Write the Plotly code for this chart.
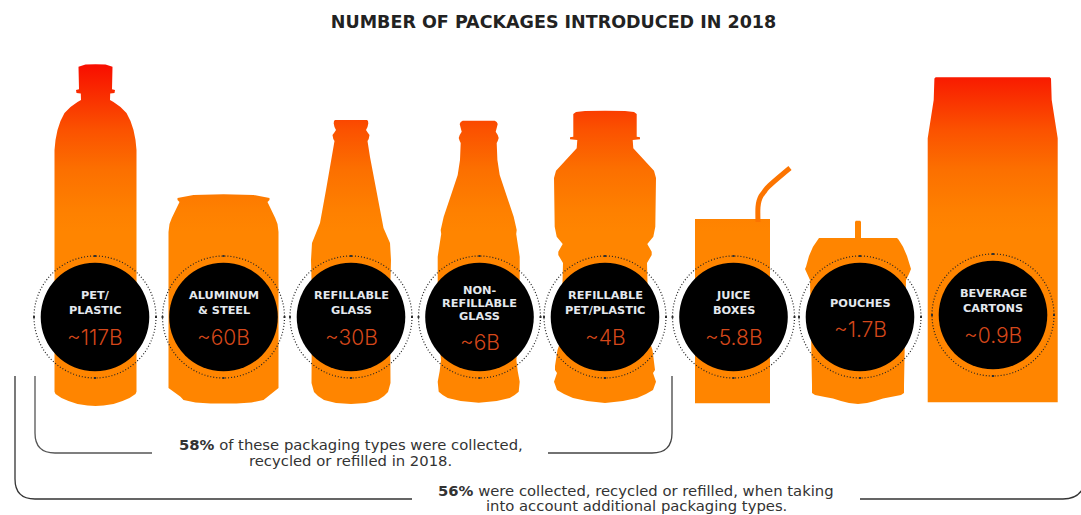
import plotly.graph_objects as go

WIDTH, HEIGHT = 1081, 515

# Packaging volumes (billions of units) and their labels
package_labels = [
    ["PET/", "PLASTIC"],
    ["ALUMINUM", "& STEEL"],
    ["REFILLABLE", "GLASS"],
    ["NON-", "REFILLABLE", "GLASS"],
    ["REFILLABLE", "PET/PLASTIC"],
    ["JUICE", "BOXES"],
    ["POUCHES"],
    ["BEVERAGE", "CARTONS"],
]
package_volumes = [117, 60, 30, 6, 4, 5.8, 1.7, 0.9]

# Badge centres
badge_x = [95, 223.5, 351, 479.5, 605, 733.5, 860, 993]
badge_y = [317, 317, 317, 317, 317, 317, 317, 315]
BADGE_R = 54.3
RING_R = 61
LINE_STEP = {1: 0, 2: 14.3, 3: 13}
VALUE_OFFSET = {1: 12, 2: 20, 3: 25}

# Silhouette outlines as (y, half-width) pairs, mirrored about each centre line
pet_outline = [(64.3, 0), (64.6, 10), (66.7, 17), (89.3, 16.5), (90, 19.5), (93, 19), (93.5, 14.7), (100, 14.5),
               (102, 18), (107, 25), (113, 31), (121, 35), (130, 38), (140, 40), (150, 41), (391.7, 41), (394, 40),
               (398, 34), (401, 27), (404, 18), (405.5, 8), (406, 0)]
can_outline = [(194.3, 0), (195, 30), (198, 46), (200, 46), (202, 44), (208, 47), (218, 51.7), (224, 54), (232, 55),
               (388, 55), (392, 50), (396.7, 43), (400, 40), (402.5, 28), (403.5, 13), (403.5, 0)]
refill_glass_outline = [(120, 0), (120, 16), (121, 17), (123.5, 17.3), (127, 16.5), (130, 15), (133, 17), (135, 18.5),
                        (139, 17.7), (141, 16.5), (157, 19), (190, 25), (223, 31), (228, 32.5), (243, 39), (260, 40),
                        (300, 39), (383, 39.5), (392, 37), (396, 33), (400, 27), (403, 15), (404, 0)]
nonrefill_glass_outline = [(120.7, 0), (120.7, 16), (122, 18), (124, 19), (128, 18), (131.7, 17), (135, 19), (138, 20),
                           (141, 19), (143, 18), (160, 18.7), (175, 21), (196, 28), (216.7, 35), (230, 38), (234, 37.5),
                           (256.7, 41), (300, 41), (352, 38.5), (360, 37.7), (371, 39), (381.7, 41), (391.7, 40),
                           (395, 36), (398, 31), (401, 18), (402.7, 0)]
refill_pet_outline = [(110.7, 0), (111, 20), (112, 29), (114, 31.7), (136.7, 31.7), (137.3, 35), (139.3, 35),
                      (140, 27.7), (148.3, 28.3), (170.7, 49), (178, 51), (226.7, 50.3), (236.7, 48.3), (244, 42.3),
                      (251.7, 46.7), (255, 46.7), (263, 42), (340, 44), (350, 47.5), (366, 50), (370, 50), (373, 48),
                      (381.7, 51), (390, 48), (394, 41), (398, 32), (401, 18), (403, 0)]
pouch_outline = [(238, 0), (238, 39), (239.5, 40.5), (246.7, 45), (256, 49), (266.7, 52), (269, 53), (274, 51),
                 (280, 48), (385, 46), (393, 46), (395, 43), (397, 33), (398.5, 25), (401, 17), (403, 9), (404, 0)]
carton_outline = [(77.3, 0), (77.3, 57), (78.5, 58.3), (100, 59), (138.3, 65), (402.3, 65), (402.3, 0)]
box_outline = [(219, 0), (219, 37.5), (403.3, 37.5), (403.3, 0)]
spout_outline = [(220.7, 0), (220.7, 2.2), (222, 3), (239, 3), (239, 0)]

silhouettes = [
    (95.5, pet_outline),
    (223.5, can_outline),
    (351, refill_glass_outline),
    (478.7, nonrefill_glass_outline),
    (605, refill_pet_outline),
    (732.5, box_outline),
    (858, spout_outline),
    (858, pouch_outline),
    (992.7, carton_outline),
]

# Juice-box straw
straw_x = [758, 758, 759, 761, 764, 767, 790]
straw_y = [222, 207, 201, 196, 192, 188, 168]

# Bracket strokes
bracket_58_left = "M 35 376 L 35 433 Q 35 453 55 453 L 152 453"
bracket_58_right = "M 548 453 L 652 453 Q 672 453 672 433 L 672 376"
bracket_56_left = "M 15 376 L 15 479 Q 15 499 35 499 L 412 499"
bracket_56_right = "M 860 499 L 1063 499 Q 1076 499 1082 490"

# Shared vertical fill running from red at the top of the tallest bottle to orange
GRADIENT_TOP, GRADIENT_BASE = 65, 232
gradient_stops = [[0, "#f80e00"], [0.39, "#fb5200"], [0.63, "#fc7000"], [0.87, "#fe8000"], [1, "#ff8500"]]


def outline_xy(cx, outline):
    """Mirror a half outline about its centre line into one closed polygon."""
    right = [(cx + w, y) for y, w in outline]
    left = [(cx - w, y) for y, w in reversed(outline)]
    pts = right + left
    return [p[0] for p in pts], [p[1] for p in pts]


fig = go.Figure()

for cx, outline in silhouettes:
    xs, ys = outline_xy(cx, outline)
    fig.add_trace(go.Scatter(
        x=xs, y=ys, mode="lines", fill="toself", line=dict(width=0),
        fillgradient=dict(type="vertical", start=GRADIENT_TOP, stop=GRADIENT_BASE, colorscale=gradient_stops),
        hoverinfo="skip", showlegend=False,
    ))

fig.add_trace(go.Scatter(x=straw_x, y=straw_y, mode="lines",
                         line=dict(color="#fc7400", width=5, shape="spline"),
                         hoverinfo="skip", showlegend=False))

# Heavier ticks at the four compass points of each dotted ring
tick_x, tick_y = [], []
for cx, cy in zip(badge_x, badge_y):
    tick_x += [cx - RING_R, cx + RING_R, cx, cx]
    tick_y += [cy, cy, cy - RING_R, cy + RING_R]
fig.add_trace(go.Scatter(x=tick_x, y=tick_y, mode="markers",
                         marker=dict(color="#333333", size=2, symbol="square", line=dict(width=0)),
                         hoverinfo="skip", showlegend=False))

shapes = []
for cx, cy in zip(badge_x, badge_y):
    shapes.append(dict(type="circle", xref="x", yref="y", x0=cx - RING_R, x1=cx + RING_R, y0=cy - RING_R,
                       y1=cy + RING_R, line=dict(color="#222222", width=1.2, dash="1px,2px")))
    shapes.append(dict(type="circle", xref="x", yref="y", x0=cx - BADGE_R, x1=cx + BADGE_R, y0=cy - BADGE_R,
                       y1=cy + BADGE_R, fillcolor="#000000", line=dict(width=0)))

for path, colour in [(bracket_58_left, "#555555"), (bracket_58_right, "#444444"),
                     (bracket_56_left, "#333333"), (bracket_56_right, "#333333")]:
    shapes.append(dict(type="path", xref="x", yref="y", path=path, line=dict(color=colour, width=1.3)))

annotations = []


def place(text, x, y, size, colour, family="DejaVu Sans", weight=None):
    annotations.append(dict(x=x, y=y, xref="x", yref="y", text=text, showarrow=False, xanchor="center",
                            yanchor="middle", align="center",
                            font=dict(family=family, size=size, color=colour, weight=weight)))


for lines, volume, cx, cy in zip(package_labels, package_volumes, badge_x, badge_y):
    n = len(lines)
    step = LINE_STEP[n]
    for i, line in enumerate(lines):
        place(line, cx, cy - 14 + (i - (n - 1) / 2) * step, 11.3, "#e4e8ee", "DejaVu Sans", 700)
    place(f"~{volume}B", cx, cy + VALUE_OFFSET[n], 21, "#d4471a", "Inter", 300)

place("<b>58%</b> of these packaging types were collected,", 350.5, 444, 14.8, "#333333")
place("recycled or refilled in 2018.", 350.5, 460, 14.8, "#333333")
place("<b>56%</b> were collected, recycled or refilled, when taking", 636, 490, 14.8, "#333333")
place("into account additional packaging types.", 636, 505.5, 14.8, "#333333")

fig.update_layout(
    width=WIDTH, height=HEIGHT, margin=dict(l=0, r=0, t=0, b=0),
    paper_bgcolor="white", plot_bgcolor="white", showlegend=False,
    title=dict(text="NUMBER OF PACKAGES INTRODUCED IN 2018", x=553.5 / WIDTH, xref="paper", xanchor="center",
               y=1 - 22 / HEIGHT, yref="paper", yanchor="middle",
               font=dict(family="DejaVu Sans", size=17.5, color="#222222", weight=700)),
    xaxis=dict(range=[0, WIDTH], visible=False, fixedrange=True),
    yaxis=dict(range=[HEIGHT, 0], visible=False, fixedrange=True),
    shapes=shapes, annotations=annotations,
)

fig.write_html("out.html", config=dict(displayModeBar=False))
